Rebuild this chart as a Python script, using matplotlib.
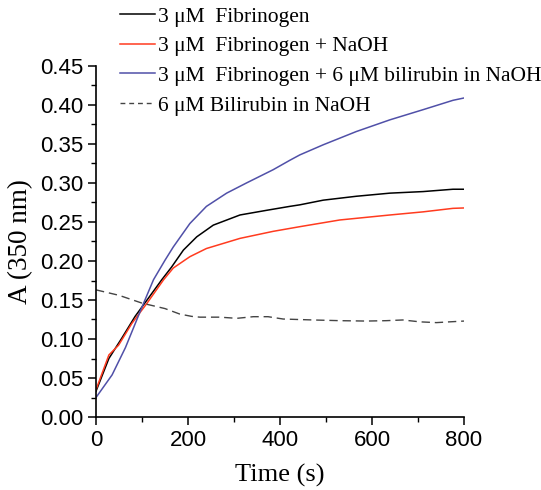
import matplotlib
matplotlib.use("Agg")
import matplotlib.pyplot as plt
from matplotlib.ticker import MultipleLocator, FormatStrFormatter
from matplotlib.lines import Line2D

# Data
t_fib = [0, 28, 56, 85, 111, 143, 164, 190, 219, 255, 313, 371, 421, 443, 494, 566, 639, 711, 776, 800]
a_fib = [0.033, 0.075, 0.101, 0.129, 0.150, 0.176, 0.192, 0.214, 0.231, 0.246, 0.259, 0.265, 0.270, 0.272, 0.278, 0.283, 0.287, 0.289, 0.292, 0.292]

t_naoh = [0, 28, 49, 78, 111, 147, 168, 204, 240, 313, 385, 443, 530, 639, 711, 776, 800]
a_naoh = [0.035, 0.0795, 0.092, 0.120, 0.146, 0.176, 0.191, 0.2055, 0.216, 0.229, 0.238, 0.244, 0.2526, 0.259, 0.263, 0.2675, 0.268]

t_bil_fib = [0, 35, 64, 100, 125, 150, 168, 204, 240, 284, 327, 385, 421, 443, 494, 566, 639, 711, 776, 800]
a_bil_fib = [0.025, 0.054, 0.089, 0.141, 0.176, 0.201, 0.218, 0.248, 0.270, 0.287, 0.300, 0.317, 0.329, 0.336, 0.349, 0.366, 0.381, 0.394, 0.406, 0.409]

t_bil = [0, 50, 100, 150, 182, 208, 226, 269, 306, 342, 374, 407, 472, 530, 588, 631, 667, 704, 740, 769, 800]
a_bil = [0.163, 0.156, 0.146, 0.139, 0.132, 0.129, 0.128, 0.128, 0.1265, 0.1286, 0.1286, 0.1256, 0.1244, 0.1235, 0.123, 0.1235, 0.1244, 0.122, 0.121, 0.122, 0.123]

labels = ["3 μM  Fibrinogen", "3 μM  Fibrinogen + NaOH",
          "3 μM  Fibrinogen + 6 μM bilirubin in NaOH", "6 μM Bilirubin in NaOH"]

colors = ["black", "#ff3b1f", "#5050a8", "#444444"]

fig = plt.figure(figsize=(5.41, 4.90), dpi=100)
ax = fig.add_axes([96 / 541, 1 - 417 / 490, 368 / 541, 351 / 490])

ax.plot(t_fib, a_fib, color=colors[0], lw=1.1)
ax.plot(t_naoh, a_naoh, color=colors[1], lw=1.1)
ax.plot(t_bil_fib, a_bil_fib, color=colors[2], lw=1.1)
ax.plot(t_bil, a_bil, color=colors[3], lw=1.0, ls=(0, (6, 3.5)))

ax.set_xlim(0, 800)
ax.set_ylim(0, 0.45)
ax.xaxis.set_major_locator(MultipleLocator(200))
ax.xaxis.set_minor_locator(MultipleLocator(100))
ax.yaxis.set_major_locator(MultipleLocator(0.05))
ax.yaxis.set_minor_locator(MultipleLocator(0.025))
ax.yaxis.set_major_formatter(FormatStrFormatter("%.2f"))

for s in ["top", "right"]:
    ax.spines[s].set_visible(False)
for s in ["left", "bottom"]:
    ax.spines[s].set_linewidth(1.2)

ax.tick_params(which="major", direction="out", length=6, width=1.1, labelsize=16,
               labelfontfamily="Liberation Sans", pad=3)
ax.tick_params(which="minor", direction="out", length=3.5, width=1.0)

ax.set_xlabel("Time (s)", fontsize=19, family="Liberation Serif", labelpad=10)
ax.set_ylabel("A (350 nm)", fontsize=19.5, family="Liberation Serif", labelpad=5)

handles = [Line2D([], [], color=colors[0], lw=1.1),
           Line2D([], [], color=colors[1], lw=1.1),
           Line2D([], [], color=colors[2], lw=1.1),
           Line2D([], [], color=colors[3], lw=1.0, ls=(0, (3.5, 2.8)))]
fig.legend(handles, labels, loc="upper left", bbox_to_anchor=(120 / 541, 0.986),
           frameon=False, prop={"family": "Liberation Serif", "size": 15.5},
           handlelength=1.63, handletextpad=0.14, labelspacing=0.44,
           borderaxespad=0.0, borderpad=0.0)

fig.savefig("out.png", dpi=100)
